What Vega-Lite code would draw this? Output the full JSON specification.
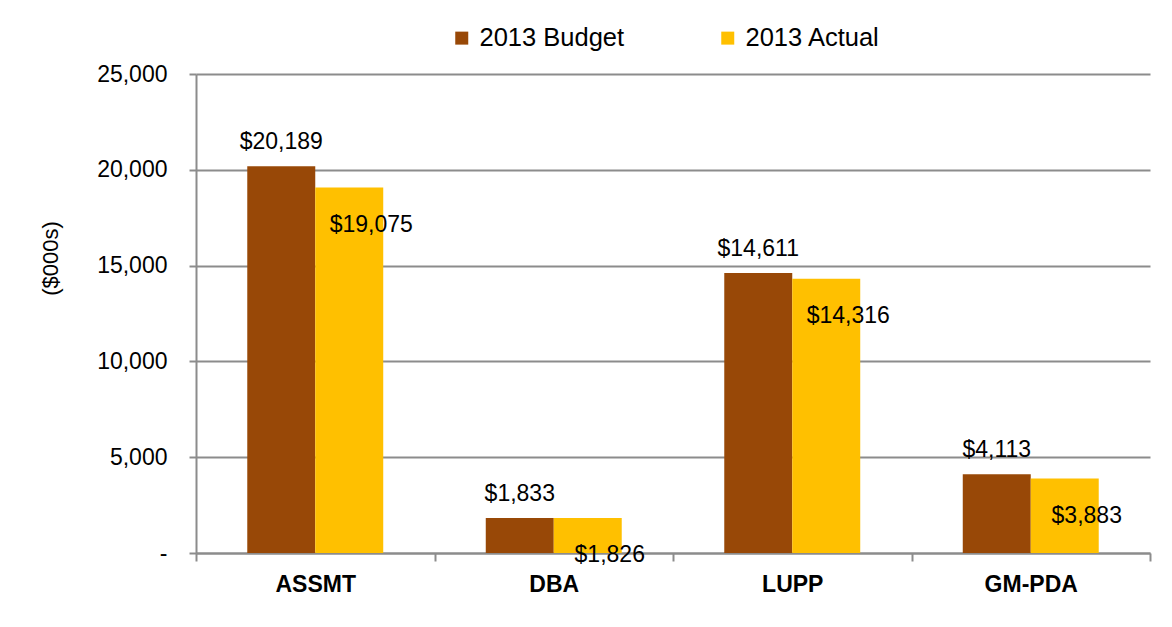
{
  "$schema": "https://vega.github.io/schema/vega-lite/v6.json",
  "width": 954,
  "height": 479,
  "autosize": "none",
  "padding": {"left": 196, "top": 74, "right": 22, "bottom": 74},
  "background": "white",
  "config": {
    "font": "Liberation Sans",
    "view": {"stroke": null}
  },
  "data": {
    "values": [
      {"dept": "ASSMT", "series": "2013 Budget", "value": 20189},
      {"dept": "ASSMT", "series": "2013 Actual", "value": 19075},
      {"dept": "DBA", "series": "2013 Budget", "value": 1833},
      {"dept": "DBA", "series": "2013 Actual", "value": 1826},
      {"dept": "LUPP", "series": "2013 Budget", "value": 14611},
      {"dept": "LUPP", "series": "2013 Actual", "value": 14316},
      {"dept": "GM-PDA", "series": "2013 Budget", "value": 4113},
      {"dept": "GM-PDA", "series": "2013 Actual", "value": 3883}
    ]
  },
  "encoding": {
    "x": {
      "field": "dept",
      "type": "nominal",
      "sort": ["ASSMT", "DBA", "LUPP", "GM-PDA"],
      "scale": {"paddingInner": 0, "paddingOuter": 0},
      "axis": {
        "title": null,
        "labelAngle": 0,
        "labelFont": "Liberation Sans",
        "labelFontSize": 23,
        "labelFontWeight": "bold",
        "labelColor": "black",
        "labelPadding": 12,
        "domainColor": "#8c8c8c",
        "domainWidth": 2,
        "ticks": true,
        "tickColor": "#8c8c8c",
        "tickWidth": 2,
        "tickSize": 8,
        "tickBand": "extent",
        "grid": false
      }
    },
    "xOffset": {
      "field": "series",
      "type": "nominal",
      "sort": ["2013 Budget", "2013 Actual"],
      "scale": {"paddingInner": 0, "paddingOuter": 0.754}
    },
    "y": {
      "field": "value",
      "type": "quantitative",
      "scale": {"domain": [0, 25000]},
      "axis": {
        "title": "($000s)",
        "titleFont": "Liberation Sans",
        "titleFontSize": 22,
        "titleFontWeight": "normal",
        "titleColor": "black",
        "titleAngle": -90,
        "titleX": -146,
        "titleY": 184,
        "titleBaseline": "middle",
        "titleAlign": "center",
        "values": [0, 5000, 10000, 15000, 20000, 25000],
        "labelExpr": "datum.value == 0 ? '-' : format(datum.value, ',')",
        "labelFont": "Liberation Sans",
        "labelFontSize": 23,
        "labelColor": "black",
        "labelPadding": 22,
        "tickSize": 7,
        "tickColor": "#8c8c8c",
        "tickWidth": 2,
        "domainColor": "#8c8c8c",
        "domainWidth": 2,
        "gridColor": "#8c8c8c",
        "gridWidth": 2
      }
    }
  },
  "layer": [
    {
      "mark": {"type": "bar"},
      "encoding": {
        "color": {
          "field": "series",
          "type": "nominal",
          "sort": ["2013 Budget", "2013 Actual"],
          "scale": {"domain": ["2013 Budget", "2013 Actual"], "range": ["#984807", "#FFC000"]},
          "legend": {
            "title": null,
            "orient": "none",
            "direction": "horizontal",
            "legendX": 253,
            "legendY": -49,
            "symbolType": "square",
            "symbolSize": 169,
            "symbolStrokeWidth": 0,
            "labelFont": "Liberation Sans",
            "labelFontSize": 25.5,
            "labelColor": "black",
            "labelOffset": 5,
            "columnPadding": 90,
            "labelLimit": 300
          }
        }
      }
    },
    {
      "transform": [{"filter": "datum.series == '2013 Budget'"}],
      "mark": {"type": "text", "baseline": "middle", "dy": -24, "font": "Liberation Sans", "fontSize": 23, "color": "black"},
      "encoding": {
        "text": {"field": "value", "type": "quantitative", "format": "$,.0f"}
      }
    },
    {
      "transform": [{"filter": "datum.series == '2013 Actual'"}],
      "mark": {"type": "text", "baseline": "middle", "dy": 37, "dx": 22, "font": "Liberation Sans", "fontSize": 23, "color": "black"},
      "encoding": {
        "text": {"field": "value", "type": "quantitative", "format": "$,.0f"}
      }
    }
  ]
}
